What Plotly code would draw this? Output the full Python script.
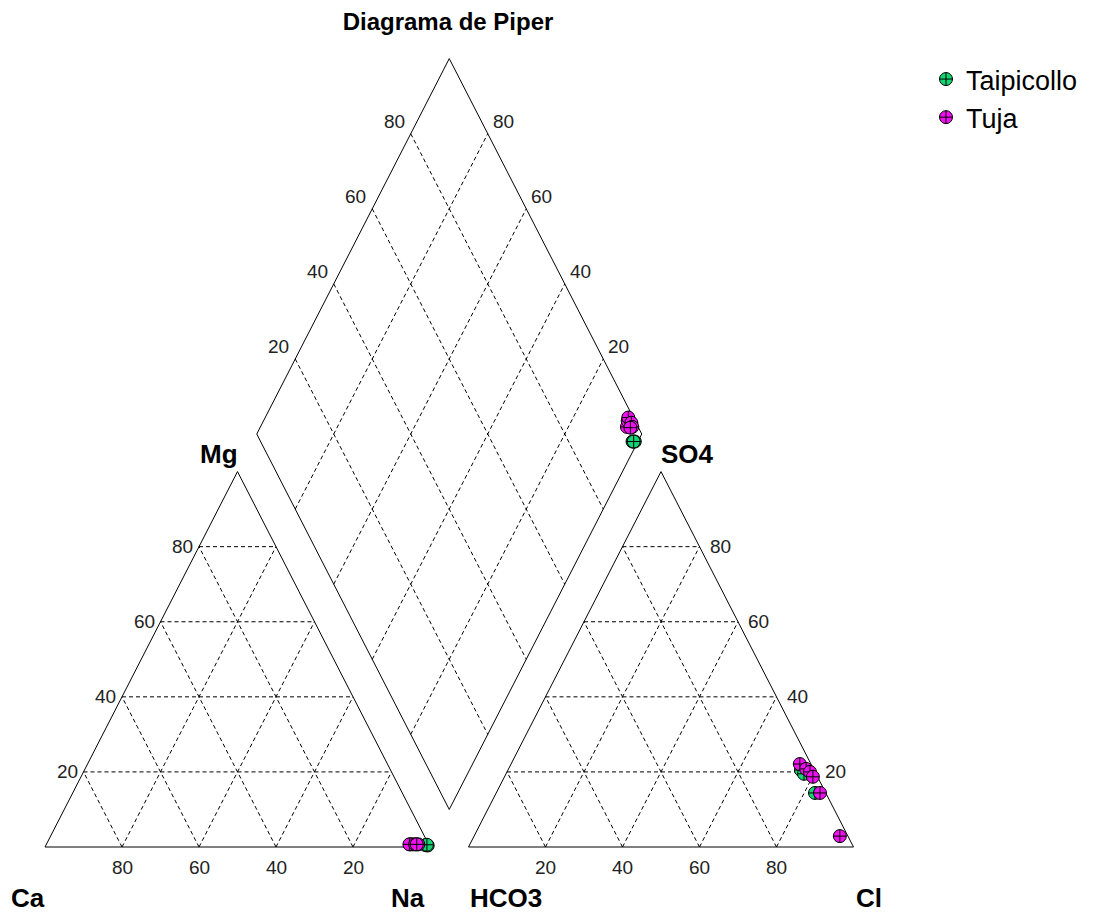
import plotly.graph_objects as go

# %% data (percent of meq)
grupos = ["Taipicollo", "Tuja"]

taipicollo_ca = [0.9, 0.4, 0.5]
taipicollo_mg = [0.5, 0.4, 0.6]
taipicollo_na = [98.6, 99.2, 98.9]
taipicollo_hco3 = [3.4, 2.8, 3.1]
taipicollo_so4 = [20.5, 14.4, 19.5]
taipicollo_cl = [76.1, 82.8, 77.4]

tuja_ca = [4.1, 4.7, 5.0, 3.5, 2.7, 3.1]
tuja_mg = [0.7, 0.7, 0.7, 0.7, 0.7, 0.7]
tuja_na = [95.2, 94.6, 94.3, 95.8, 96.6, 96.2]
tuja_hco3 = [2.9, 1.9, 1.3, 1.2, 1.5, 2.1]
tuja_so4 = [22.1, 20.8, 20.0, 18.7, 14.4, 2.9]
tuja_cl = [75.0, 77.3, 78.7, 80.1, 84.1, 95.0]

ticks = [20, 40, 60, 80]

# %% geometry
H = 0.8660254   # sin(60)
GAP = 10        # space between the two triangles
OFF = 100 + GAP  # x offset of anion triangle

def tri(a, b, c, off=0):
    # a = left corner, b = top corner, c = right corner (percent)
    return off + c + b / 2, H * b

def dia(na, so4cl):
    return 0.5 * (na + so4cl + OFF), H * (so4cl + OFF - na)

def seg(lines, p, q):
    lines[0] += [p[0], q[0], None]
    lines[1] += [p[1], q[1], None]

outline = [[], []]
grid = [[], []]

for off in (0, OFF):
    pts = [tri(100, 0, 0, off), tri(0, 0, 100, off), tri(0, 100, 0, off), tri(100, 0, 0, off)]
    outline[0] += [p[0] for p in pts] + [None]
    outline[1] += [p[1] for p in pts] + [None]
    for v in ticks:
        seg(grid, tri(100 - v, v, 0, off), tri(0, v, 100 - v, off))
        seg(grid, tri(100 - v, 0, v, off), tri(0, 100 - v, v, off))
        seg(grid, tri(v, 0, 100 - v, off), tri(v, 100 - v, 0, off))

pts = [dia(0, 0), dia(100, 0), dia(100, 100), dia(0, 100), dia(0, 0)]
outline[0] += [p[0] for p in pts] + [None]
outline[1] += [p[1] for p in pts] + [None]
for v in ticks:
    seg(grid, dia(v, 0), dia(v, 100))
    seg(grid, dia(0, v), dia(100, v))

fig = go.Figure()
fig.add_trace(go.Scatter(x=grid[0], y=grid[1], mode="lines", hoverinfo="skip", showlegend=False,
                         line=dict(color="black", width=1, dash="4px,3px")))
fig.add_trace(go.Scatter(x=outline[0], y=outline[1], mode="lines", hoverinfo="skip", showlegend=False,
                         line=dict(color="black", width=1)))

# %% samples
series = [
    ("Taipicollo", "#14d474", taipicollo_ca, taipicollo_mg, taipicollo_na,
     taipicollo_hco3, taipicollo_so4, taipicollo_cl),
    ("Tuja", "#ee10ee", tuja_ca, tuja_mg, tuja_na, tuja_hco3, tuja_so4, tuja_cl),
]
for name, color, ca, mg, na, hco3, so4, cl in series:
    xs, ys = [], []
    for i in range(len(ca)):
        p = tri(ca[i], mg[i], na[i])
        q = tri(hco3[i], so4[i], cl[i], OFF)
        d = dia(na[i], so4[i] + cl[i])
        for r in (p, q, d):
            xs.append(r[0])
            ys.append(r[1])
    fig.add_trace(go.Scatter(x=xs, y=ys, mode="markers", name=name,
                             marker=dict(symbol="circle-cross", size=13, color=color,
                                         line=dict(color="black", width=1))))

# %% labels
ann = []
tick_font = dict(family="Liberation Sans, Arial", size=19, color="#222")
for v in ticks:
    x, y = tri(100 - v, 0, v)
    ann.append(dict(x=x, y=y, text=str(100 - v), xanchor="center", yanchor="top", yshift=-8, font=tick_font))
    x, y = tri(100 - v, v, 0)
    ann.append(dict(x=x, y=y, text=str(v), xanchor="right", yanchor="middle", xshift=-4, font=tick_font))
    x, y = tri(100 - v, 0, v, OFF)
    ann.append(dict(x=x, y=y, text=str(v), xanchor="center", yanchor="top", yshift=-8, font=tick_font))
    x, y = tri(0, v, 100 - v, OFF)
    ann.append(dict(x=x, y=y, text=str(v), xanchor="left", yanchor="middle", xshift=8, font=tick_font))
    x, y = dia(0, v)
    ann.append(dict(x=x, y=y, text=str(v), xanchor="right", yanchor="bottom", xshift=-4, font=tick_font))
    x, y = dia(100 - v, 100)
    ann.append(dict(x=x, y=y, text=str(v), xanchor="left", yanchor="bottom", xshift=3, font=tick_font))

big = dict(family="Liberation Sans, Arial", size=26, color="black")
corners = [
    ("Mg", tri(0, 100, 0), -19, 18),
    ("SO4", tri(0, 100, 0, OFF), 26, 18),
    ("Ca", tri(100, 0, 0), -17, -51),
    ("Na", tri(0, 0, 100), -22, -51),
    ("HCO3", tri(100, 0, 0, OFF), 37, -51),
    ("Cl", tri(0, 0, 100, OFF), 15, -51),
]
for txt, (x, y), dx, dy in corners:
    ann.append(dict(x=x, y=y, text="<b>" + txt + "</b>", xanchor="center", yanchor="middle",
                    xshift=dx, yshift=dy, font=big))

for a in ann:
    a["showarrow"] = False
    a["xref"] = "x"
    a["yref"] = "y"

# page has an 8px body margin, so the figure is 8px smaller than the window
W, Hh = 1087, 906
fig.update_layout(
    width=W, height=Hh, autosize=False,
    margin=dict(l=0, r=0, t=0, b=0),
    plot_bgcolor="white", paper_bgcolor="white",
    title=dict(text="<b>Diagrama de Piper</b>", x=440 / W, xanchor="center",
               y=1 - 14 / Hh, yanchor="middle",
               font=dict(family="Liberation Sans, Arial", size=24, color="black")),
    xaxis=dict(range=[-37 / 3.85, 1050 / 3.85], visible=False),
    yaxis=dict(range=[-67 / 4.335, 839 / 4.335], visible=False),
    legend=dict(x=918 / W, y=1 - 47 / Hh, xanchor="left", yanchor="top",
                bgcolor="rgba(0,0,0,0)",
                font=dict(family="Liberation Sans, Arial", size=27, color="black")),
    annotations=ann,
    showlegend=True,
)

fig.write_html("out.html")
